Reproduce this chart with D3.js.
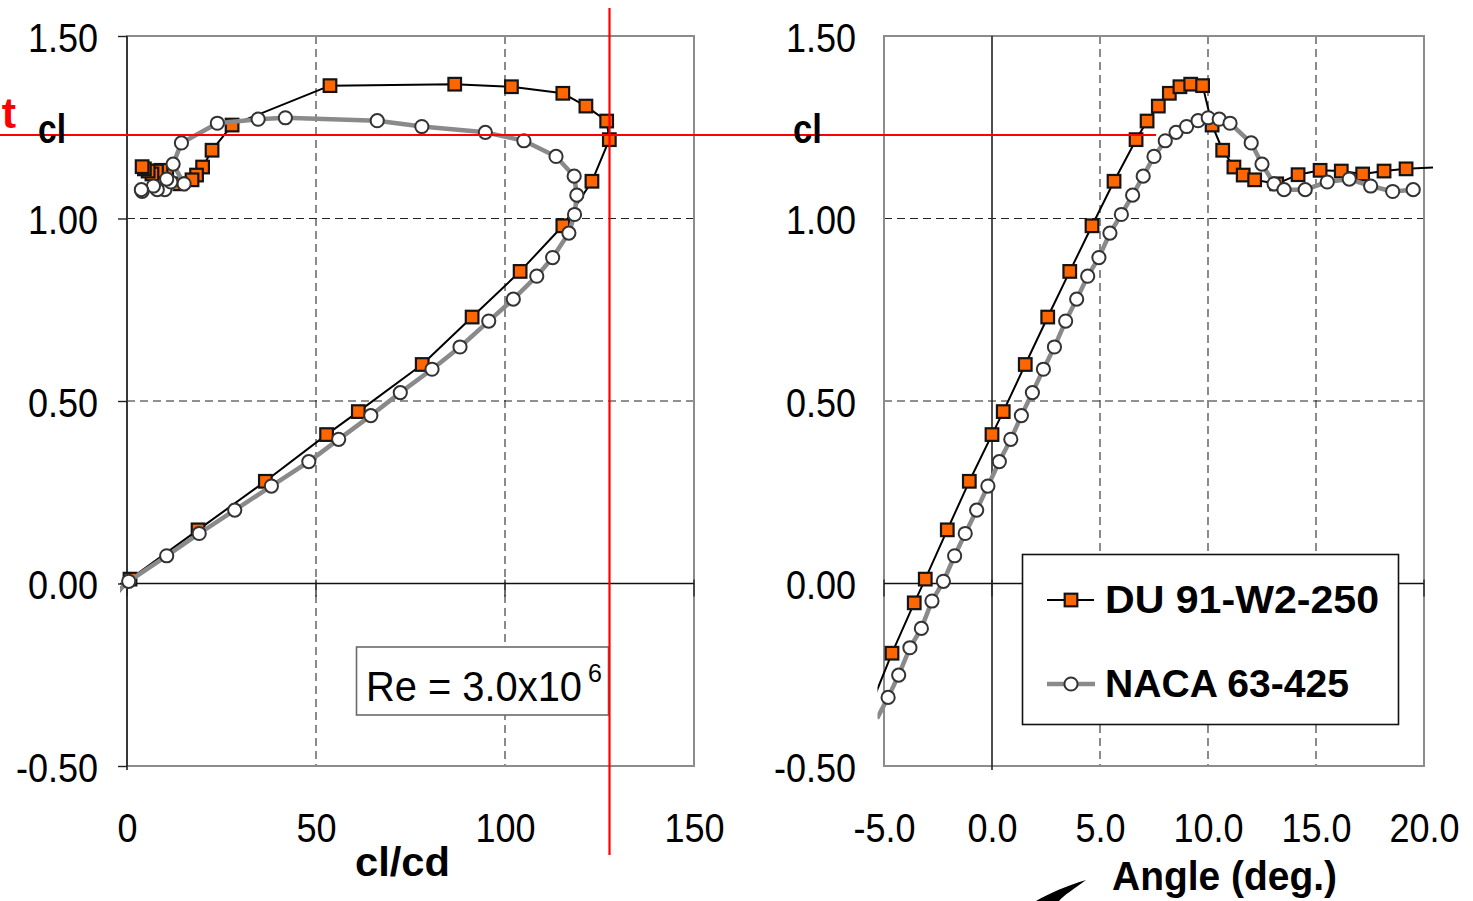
<!DOCTYPE html>
<html>
<head>
<meta charset="utf-8">
<script src="https://cdn.jsdelivr.net/npm/d3@7"></script>
<style>
  html, body { margin: 0; padding: 0; background: #fff; }
  svg { display: block; }
  .num { font-family: "Liberation Sans Narrow", "Arial Narrow", "Liberation Sans", sans-serif; fill: #000; }
  .lbl { font-family: "Liberation Sans Narrow", "Arial Narrow", "Liberation Sans", sans-serif; font-weight: bold; fill: #000; }
  .leg { font-family: "Liberation Sans", Arial, sans-serif; font-weight: bold; fill: #000; }
</style>
</head>
<body>
<svg id="chart" width="1473" height="901"></svg>
<script>
// ---- Airfoil data: DU 91-W2-250 and NACA 63-425, Re = 3.0e6 ----
// angle of attack (deg), lift coefficient, lift-to-drag ratio
const duAlpha = [-5.65, -4.63, -3.60, -3.09, -2.07, -1.05, 0.00, 0.52, 1.54, 2.58, 3.60, 4.63, 5.65, 6.67, 7.18, 7.70, 8.21, 8.70, 9.20, 9.75, 10.19, 10.68, 11.20, 11.63, 12.16, 13.18, 14.17, 15.19, 16.17, 17.16, 18.15, 19.17, 21.20];
const duCl    = [-0.34, -0.191, -0.053, 0.012, 0.147, 0.280, 0.408, 0.471, 0.600, 0.730, 0.855, 0.980, 1.102, 1.216, 1.267, 1.308, 1.343, 1.361, 1.368, 1.364, 1.256, 1.187, 1.141, 1.119, 1.106, 1.095, 1.120, 1.132, 1.130, 1.122, 1.130, 1.136, 1.142];
const duClCd  = [-26, -16, -4.4, 0.8, 18.8, 36.6, 52.8, 61.2, 78.1, 91.3, 104.0, 115.3, 123.0, 127.6, 126.9, 121.4, 115.3, 101.7, 86.7, 53.7, 27.8, 22.5, 20.0, 18.4, 17.2, 14.0, 10.5, 9.0, 7.8, 6.6, 5.6, 4.6, 4.0];

const nacaAlpha = [-5.32, -4.81, -4.32, -3.80, -3.27, -2.78, -2.25, -1.73, -1.24, -0.71, -0.19, 0.34, 0.87, 1.36, 1.87, 2.38, 2.89, 3.41, 3.92, 4.43, 4.95, 5.46, 5.99, 6.51, 7.00, 7.50, 8.02, 8.52, 9.01, 9.54, 10.01, 10.52, 11.02, 12.00, 12.50, 13.06, 13.52, 14.50, 15.52, 16.54, 17.53, 18.55, 19.50];
const nacaCl    = [-0.37, -0.312, -0.251, -0.176, -0.123, -0.048, 0.006, 0.076, 0.137, 0.201, 0.267, 0.334, 0.395, 0.460, 0.523, 0.587, 0.648, 0.719, 0.779, 0.842, 0.893, 0.960, 1.011, 1.064, 1.116, 1.170, 1.213, 1.236, 1.252, 1.268, 1.276, 1.272, 1.261, 1.207, 1.149, 1.095, 1.079, 1.079, 1.100, 1.108, 1.089, 1.074, 1.079];
const nacaClCd  = [-38, -32, -26, -19, -13.7, -5.3, 0.45, 10.5, 19.1, 28.5, 38.2, 48.1, 56.0, 64.5, 72.3, 80.7, 88.1, 95.7, 102.2, 108.4, 112.6, 116.9, 118.4, 119.0, 118.3, 113.5, 105.0, 94.8, 78.0, 66.2, 41.9, 34.7, 23.9, 14.4, 12.2, 15.1, 10.0, 8.0, 11.6, 10.5, 7.0, 4.0, 3.8];

const seriesNames = ["DU 91-W2-250", "NACA 63-425"];

// axis ticks
const clTicks = [-0.5, 0, 0.5, 1.0, 1.5];
const clGrid = [0.5, 1.0];
const ratioTicks = [0, 50, 100, 150];
const ratioGrid = [50, 100];
const alphaTicks = [-5, 0, 5, 10, 15, 20];
const alphaGrid = [5, 10, 15];

const du = duAlpha.map((a, i) => ({ a, cl: duCl[i], ld: duClCd[i] }));
const naca = nacaAlpha.map((a, i) => ({ a, cl: nacaCl[i], ld: nacaClCd[i] }));

// plain hyphen for negative numbers
const loc = d3.formatLocale({ decimal: ".", thousands: ",", grouping: [3], currency: ["", ""], minus: "-" });

const svg = d3.select("#chart");

const y = d3.scaleLinear().domain([-0.5, 1.5]).range([766, 36]);
const xL = d3.scaleLinear().domain([0, 150]).range([127, 694]);
const xR = d3.scaleLinear().domain([-5, 20]).range([884, 1424]);

const defs = svg.append("defs");

function panel(cfg) {
  const { x, key, ticks, grid, tickFmt, yAxisAt, clip, id, yLabelEnd, yTickLen } = cfg;
  const g = svg.append("g");
  const [x0, x1] = x.range();

  // dashed grid
  g.selectAll(".vg").data(grid).join("line")
    .attr("x1", d => x(d)).attr("x2", d => x(d))
    .attr("y1", y(1.5)).attr("y2", y(-0.5))
    .attr("stroke", "#5a5a5a").attr("stroke-width", 1.4).attr("stroke-dasharray", "8,5");
  g.selectAll(".hg").data(clGrid).join("line")
    .attr("x1", x0).attr("x2", x1)
    .attr("y1", d => y(d)).attr("y2", d => y(d))
    .attr("stroke", "#222").attr("stroke-width", 1.2).attr("stroke-dasharray", "8,5");

  // plot frame
  g.append("rect")
    .attr("x", x0).attr("y", y(1.5)).attr("width", x1 - x0).attr("height", y(-0.5) - y(1.5))
    .attr("fill", "none").attr("stroke", "#8c8c8c").attr("stroke-width", 2);

  // zero lines (axes)
  g.append("line").attr("x1", x0 - (yAxisAt === x0 ? 7 : 0)).attr("x2", x1)
    .attr("y1", y(0)).attr("y2", y(0)).attr("stroke", "#111").attr("stroke-width", 1.3);
  g.append("line").attr("x1", yAxisAt).attr("x2", yAxisAt)
    .attr("y1", y(1.5)).attr("y2", y(-0.5) + 4).attr("stroke", "#222").attr("stroke-width", 1.6);

  // x tick marks crossing the zero line
  g.selectAll(".xt").data(ticks).join("line")
    .attr("x1", d => x(d)).attr("x2", d => x(d))
    .attr("y1", y(0) - 4).attr("y2", y(0) + 13)
    .attr("stroke", "#222").attr("stroke-width", 1.3);

  // x tick labels
  const xa = g.append("g").attr("transform", `translate(0,${y(-0.5)})`)
    .call(d3.axisBottom(x).tickValues(ticks).tickFormat(tickFmt).tickSize(0));
  xa.select(".domain").remove();
  xa.selectAll("text").attr("class", "num").attr("y", 76).attr("dy", null)
    .attr("font-size", null).attr("font-family", null).style("font-size", "40px");

  // y tick labels (and marks on the left chart)
  const ya = g.append("g").attr("transform", `translate(${x0},0)`)
    .call(d3.axisLeft(y).tickValues(clTicks).tickFormat(loc.format(".2f"))
      .tickSize(yTickLen).tickPadding(x0 - yLabelEnd - yTickLen));
  ya.select(".domain").remove();
  ya.selectAll("line").attr("stroke", "#222").attr("stroke-width", 1.4);
  ya.selectAll("text").attr("class", "num").attr("dy", "0.38em")
    .attr("font-size", null).attr("font-family", null).style("font-size", "40px");

  // data series
  defs.append("clipPath").attr("id", id)
    .append("rect").attr("x", clip[0]).attr("y", 0).attr("width", clip[1] - clip[0]).attr("height", 901);

  const line = d3.line().x(d => x(d[key])).y(d => y(d.cl));
  const inDomain = d => d[key] >= x.domain()[0] && d[key] <= x.domain()[1];

  const dg = g.append("g").attr("clip-path", `url(#${id})`);
  dg.append("path").datum(du).attr("d", line)
    .attr("fill", "none").attr("stroke", "#000").attr("stroke-width", 2).attr("stroke-linejoin", "round");
  g.append("g").selectAll("rect").data(du.filter(inDomain)).join("rect")
    .attr("x", d => x(d[key]) - 6.3).attr("y", d => y(d.cl) - 6.3)
    .attr("width", 12.6).attr("height", 12.6)
    .attr("fill", "#ff6600").attr("stroke", "#141414").attr("stroke-width", 2.2);

  const ng = g.append("g").attr("clip-path", `url(#${id})`);
  ng.append("path").datum(naca).attr("d", line)
    .attr("fill", "none").attr("stroke", "#8a8a8a").attr("stroke-width", 4.5).attr("stroke-linejoin", "round");
  g.append("g").selectAll("circle").data(naca.filter(inDomain)).join("circle")
    .attr("cx", d => x(d[key])).attr("cy", d => y(d.cl)).attr("r", 6.6)
    .attr("fill", "#fff").attr("stroke", "#333").attr("stroke-width", 2);
}

panel({ x: xL, key: "ld", ticks: ratioTicks, grid: ratioGrid, tickFmt: loc.format("d"),
        yAxisAt: xL(0), clip: [120, 700], id: "clipL", yLabelEnd: 98, yTickLen: 9 });
panel({ x: xR, key: "a", ticks: alphaTicks, grid: alphaGrid, tickFmt: loc.format(".1f"),
        yAxisAt: xR(0), clip: [877.5, 1433], id: "clipR", yLabelEnd: 856, yTickLen: 0 });

// tick numbers are set in a condensed face
svg.selectAll("text.num").each(function () {
  const w = this.getComputedTextLength();
  d3.select(this).attr("textLength", (w * 0.9).toFixed(1)).attr("lengthAdjust", "spacingAndGlyphs");
});

// Reynolds number box
svg.append("rect").attr("x", 356.5).attr("y", 647).attr("width", 252).attr("height", 68)
  .attr("fill", "#fff").attr("stroke", "#6a6a6a").attr("stroke-width", 1.6);
const re = svg.append("text").attr("class", "num").attr("x", 366).attr("y", 701).style("font-size", "42px");
re.append("tspan").attr("textLength", 216).attr("lengthAdjust", "spacingAndGlyphs").text("Re = 3.0x10");
re.append("tspan").attr("x", 588).attr("dy", -19).style("font-size", "25px").text("6");

// legend
const leg = svg.append("g");
leg.append("rect").attr("x", 1022.5).attr("y", 554.5).attr("width", 376).attr("height", 170)
  .attr("fill", "#fff").attr("stroke", "#111").attr("stroke-width", 1.6);
leg.append("line").attr("x1", 1047).attr("x2", 1094).attr("y1", 600).attr("y2", 600)
  .attr("stroke", "#000").attr("stroke-width", 2);
leg.append("rect").attr("x", 1071 - 6.3).attr("y", 600 - 6.3).attr("width", 12.6).attr("height", 12.6)
  .attr("fill", "#ff6600").attr("stroke", "#141414").attr("stroke-width", 2.2);
leg.append("line").attr("x1", 1047).attr("x2", 1095).attr("y1", 684).attr("y2", 684)
  .attr("stroke", "#8a8a8a").attr("stroke-width", 4.5);
leg.append("circle").attr("cx", 1071).attr("cy", 684).attr("r", 6.6)
  .attr("fill", "#fff").attr("stroke", "#333").attr("stroke-width", 2);
leg.append("text").attr("class", "leg").attr("x", 1105).attr("y", 613).style("font-size", "38px")
  .attr("textLength", 274).attr("lengthAdjust", "spacingAndGlyphs").text(seriesNames[0]);
leg.append("text").attr("class", "leg").attr("x", 1105).attr("y", 697).style("font-size", "38px")
  .attr("textLength", 244).attr("lengthAdjust", "spacingAndGlyphs").text(seriesNames[1]);

// red reference lines
svg.append("line").attr("x1", 0).attr("x2", 1156).attr("y1", 135).attr("y2", 135)
  .attr("stroke", "#ff0000").attr("stroke-width", 2.2);
svg.append("line").attr("x1", 609.5).attr("x2", 609.5).attr("y1", 8).attr("y2", 855)
  .attr("stroke", "#ff0000").attr("stroke-width", 2.2);
svg.append("text").attr("class", "lbl").attr("x", 16).attr("y", 128).attr("text-anchor", "end")
  .style("font-size", "43px").style("fill", "#ff0000").text("t");

// axis titles
svg.append("text").attr("class", "lbl").attr("x", 38).attr("y", 143).style("font-size", "40px")
  .attr("textLength", 28).attr("lengthAdjust", "spacingAndGlyphs").text("cl");
svg.append("text").attr("class", "lbl").attr("x", 793).attr("y", 143).style("font-size", "40px")
  .attr("textLength", 29).attr("lengthAdjust", "spacingAndGlyphs").text("cl");
svg.append("text").attr("class", "lbl").attr("x", 355).attr("y", 876).style("font-size", "40px")
  .attr("textLength", 95).attr("lengthAdjust", "spacingAndGlyphs").text("cl/cd");
svg.append("text").attr("class", "lbl").attr("x", 1112).attr("y", 890).style("font-size", "40px")
  .attr("textLength", 225).attr("lengthAdjust", "spacingAndGlyphs").text("Angle (deg.)");

// pointer stroke near the angle title
svg.append("path")
  .attr("d", "M1036,901 C1050,893 1066,886 1086,880 C1074,889 1064,895 1059,901 Z")
  .attr("fill", "#000");
</script>
</body>
</html>
